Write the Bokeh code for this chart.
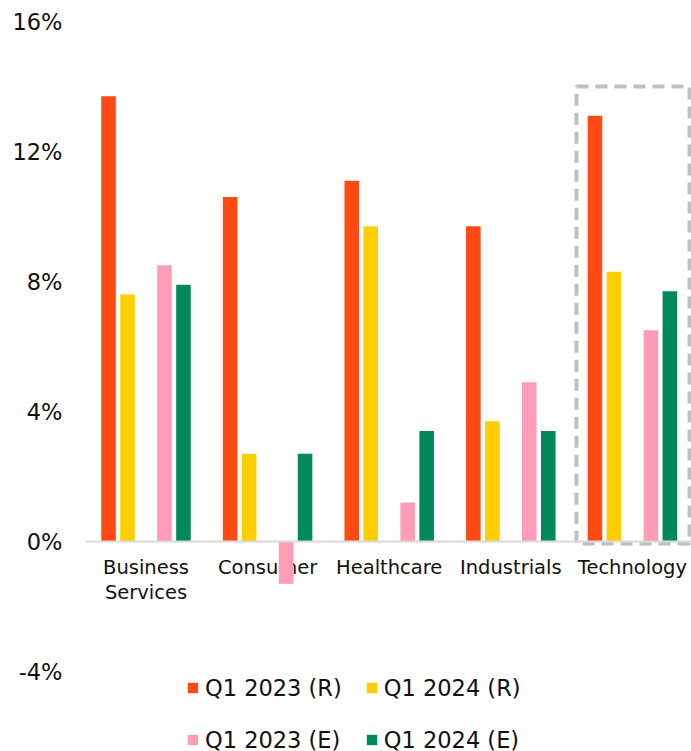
import numpy as np
from bokeh.plotting import figure
from bokeh.models import Range1d, FixedTicker, Span, Legend, LegendItem, ColumnDataSource
from bokeh.core.properties import value
from bokeh.embed import file_html
from bokeh.resources import INLINE

categories = ["Business Services", "Consumer", "Healthcare", "Industrials", "Technology"]
cat_labels = ["Business\nServices", "Consumer", "Healthcare", "Industrials", "Technology"]
q1_2023_r = [13.7, 10.6, 11.1, 9.7, 13.1]
q1_2024_r = [7.6, 2.7, 9.7, 3.7, 8.3]
q1_2023_e = [8.5, -1.3, 1.2, 4.9, 6.5]
q1_2024_e = [7.9, 2.7, 3.4, 3.4, 7.7]
series_names = ["Q1 2023 (R)", "Q1 2024 (R)", "Q1 2023 (E)", "Q1 2024 (E)"]
series_values = [q1_2023_r, q1_2024_r, q1_2023_e, q1_2024_e]
colors = ["#FF4A14", "#FFCE00", "#FF9DB8", "#008A5C"]
y_ticks = [-4, 0, 4, 8, 12, 16]
highlight = "Technology"
highlight_top = 14.0

FONT = "DejaVu Sans"

p = figure(width=691, height=751, output_backend="svg", toolbar_location=None,
           x_range=Range1d(-0.4975, 4.486), y_range=Range1d(-6.46, 16),
           min_border_left=85, min_border_right=0, min_border_top=21, min_border_bottom=0)
p.outline_line_color = None
p.xgrid.visible = False
p.ygrid.visible = False
p.xaxis.visible = False
p.background_fill_color = "white"
p.border_fill_color = "white"

yax = p.yaxis[0]
yax.ticker = FixedTicker(ticks=y_ticks)
yax.major_label_overrides = {t: f"{t}%" for t in y_ticks}
yax.axis_line_color = None
yax.major_tick_line_color = None
yax.minor_tick_line_color = None
yax.major_tick_out = 0
yax.major_tick_in = 0
yax.major_label_standoff = 23
yax.major_label_text_font = FONT
yax.major_label_text_font_size = "22.5px"
yax.major_label_text_color = "#111111"

idx = np.arange(len(categories))

# category labels (drawn beneath the bars)
p.text(x=idx, y=[-0.45] * len(categories), text=cat_labels, text_font=value(FONT),
       text_font_size="19.5px", text_align="center", text_baseline="top",
       text_line_height=1.1, text_color="#111111")

offsets = [-0.308, -0.152, 0.152, 0.308]
bar_w = 0.12
items = []
for name, vals, col, off in zip(series_names, series_values, colors, offsets):
    src = ColumnDataSource(dict(x=idx + off, top=vals))
    r = p.vbar(x="x", top="top", bottom=0, width=bar_w, source=src,
               fill_color=col, line_color=None)
    items.append(LegendItem(label=name, renderers=[r]))

p.add_layout(Span(location=0, dimension="width", line_color="#D9D9D9", line_width=2))

hi = categories.index(highlight)
p.quad(left=[hi - 0.46], right=[hi + 0.47], bottom=[-0.06], top=[highlight_top],
       fill_color=None, line_color="#BFBFBF", line_width=4, line_dash="12 7")

legend = Legend(items=items, ncols=2, location=(101, -3), orientation="horizontal",
                label_text_font=FONT, label_text_font_size="22.5px", label_text_color="#111111",
                glyph_width=13, glyph_height=13, label_standoff=6, label_height=29,
                spacing=23, padding=0, margin=0, border_line_color=None,
                background_fill_alpha=0)
p.add_layout(legend, "center")

open("out.html", "w").write(file_html(p, INLINE))
